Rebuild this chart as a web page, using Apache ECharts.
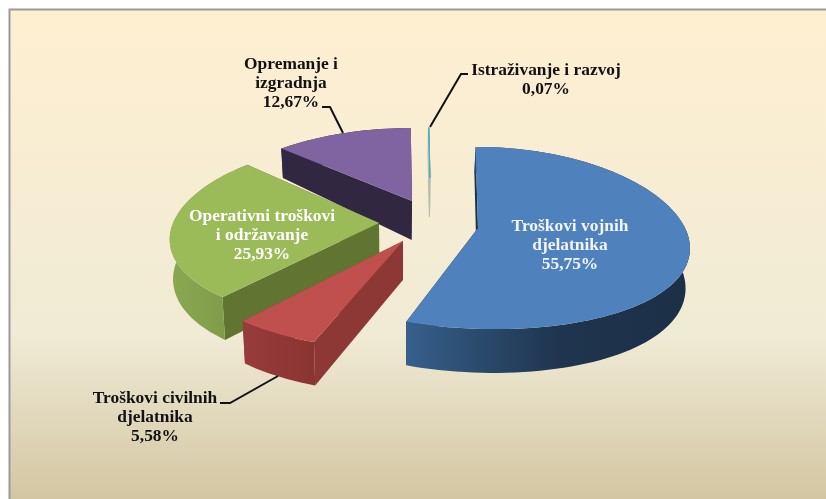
<!DOCTYPE html>
<html>
<head>
<meta charset="utf-8">
<style>html,body{margin:0;padding:0;background:#fff}#main{width:826px;height:499px}</style>
<script src="https://cdn.jsdelivr.net/npm/echarts@6/dist/echarts.min.js"></script>
</head>
<body>
<div id="main"></div>
<script>
// data
var categories = ['Troškovi vojnih\ndjelatnika', 'Troškovi civilnih\ndjelatnika', 'Operativni troškovi\ni održavanje', 'Opremanje i\nizgradnja', 'Istraživanje i razvoj'];
var values = [55.75, 5.58, 25.93, 12.67, 0.07];
var percentLabels = ['55,75%', '5,58%', '25,93%', '12,67%', '0,07%'];

// exploded slice layout: apex on screen, slice scale
var apexX = [478, 403, 379, 412, 430];
var apexY = [228, 241, 223, 201, 178];
var scaleX = [1, 1.04, 0.995, 0.98, 0.62];
var scaleY = [1, 1.077, 1, 0.9, 0.62];
var topColors = ['#4f81bd', '#c0504d', '#9bbb59', '#8064a2', '#4bacc6'];
var cutColors = ['#1d3149', '#8e3836', '#617532', '#322741', '#b4bcae'];
var wallColors = [
    [[0, '#37608c'], [0.3, '#294767'], [0.55, '#1f344e'], [1, '#1c2f47']],
    [[0, '#973c3a'], [1, '#8a3432']],
    [[0, '#8aa852'], [1, '#7b9746']],
    [[0, '#322741'], [1, '#322741']],
    [[0, '#b4bcae'], [1, '#b4bcae']]
];
// label anchor and leader lines
var labelX = [570, 155, 262, 291, 546];
var labelY = [246, 418, 236, 84, 80];
var labelColors = ['#f2f5fa', '#111', '#fff', '#111', '#111'];
var leaders = [null, [[220, 403], [230, 403], [278, 376]], null, [[322, 107], [330, 107], [343, 133]], [[468, 74], [461, 74], [430, 127]]];

var radiusX = 207, radiusY = 90, perspX = 0.17, perspY = 0.11, viewX = 395, depth = 39;

// projects an angle on the slice rim (frac 0 = apex, 1 = rim)
function project(i, deg, frac, lower) {
    var a = deg * Math.PI / 180;
    var u = Math.sin(a) * frac, v = -Math.cos(a) * frac;
    var sx = 1 / (1 - perspX * v), sy = 1 / (1 - perspY * v);
    var x = apexX[i] + scaleX[i] * radiusX * u * sx + (apexX[i] - viewX) * (sx - 1) * (0.6 + 0.4 * v);
    var y = apexY[i] + scaleY[i] * radiusY * v * sy;
    if (lower) {
        x = viewX + (x - viewX) * 0.985;
        y = y + depth * (v > 0 ? sy : Math.pow(sy, 3.8));
    }
    return [x, y];
}

function arcPoints(i, a0, a1, lower) {
    var pts = [], n = Math.max(2, Math.ceil((a1 - a0) / 2));
    for (var k = 0; k <= n; k++) {
        pts.push(project(i, a0 + (a1 - a0) * k / n, 1, lower));
    }
    return pts;
}

function cutFace(i, deg) {
    return {
        type: 'polygon',
        shape: { points: [project(i, deg, 1, false), project(i, deg, 0, false), project(i, deg, 0, true), project(i, deg, 1, true)] },
        style: { fill: cutColors[i], stroke: cutColors[i], lineWidth: i === 4 ? 1 : 0 }
    };
}

var total = values.reduce(function (a, b) { return a + b; }, 0);

function renderSlice(params) {
    var i = drawOrder[params.dataIndex];
    var before = 0;
    for (var j = 0; j < i; j++) before += values[j];
    var a0 = before / total * 360;
    var a1 = a0 + values[i] / total * 360;
    var top = arcPoints(i, a0, a1, false);
    var bottom = arcPoints(i, a0, a1, true).reverse();
    var apex = project(i, a0, 0, false);
    return {
        type: 'group',
        children: [
            cutFace(i, a0),
            cutFace(i, a1),
            {
                type: 'polygon',
                shape: { points: top.concat(bottom) },
                style: { fill: new echarts.graphic.LinearGradient(0, 0, 1, 0, wallColors[i].map(function (c) { return { offset: c[0], color: c[1] }; })) }
            },
            {
                type: 'polygon',
                shape: { points: [apex].concat(top) },
                style: { fill: topColors[i], stroke: topColors[i], lineWidth: i === 4 ? 1 : 0 }
            }
        ]
    };
}

function renderLabel(params) {
    var i = params.dataIndex;
    var children = [];
    if (leaders[i]) {
        children.push({ type: 'polyline', shape: { points: leaders[i] }, style: { stroke: '#111', lineWidth: 2, fill: null } });
    }
    children.push({
        type: 'text',
        style: {
            x: labelX[i], y: labelY[i], text: categories[i] + '\n' + percentLabels[i],
            align: 'center', verticalAlign: 'middle', lineHeight: 19,
            fontFamily: '"Liberation Serif"', fontWeight: 'bold', fontSize: 17.4, fill: labelColors[i]
        }
    });
    return { type: 'group', children: children };
}

// back slices are painted first
var drawOrder = [4, 3, 2, 1, 0];

var chart = echarts.init(document.getElementById('main'));
chart.setOption({
    animation: false,
    graphic: [{
        type: 'rect', z: -1, silent: true,
        shape: { x: 9.5, y: 9.5, width: 830, height: 500 },
        style: {
            fill: new echarts.graphic.LinearGradient(0, 0, 0, 1, [
                { offset: 0, color: '#ffefd1' }, { offset: 0.65, color: '#f0ebd5' }, { offset: 1, color: '#d1c39f' }
            ]),
            stroke: '#9a9a9a', lineWidth: 2
        }
    }],
    series: [{
        type: 'custom', coordinateSystem: 'none', renderItem: renderSlice,
        data: drawOrder.map(function (i) { return [values[i]]; }), z: 2, silent: true
    }, {
        type: 'custom', coordinateSystem: 'none', renderItem: renderLabel,
        data: values.map(function (v) { return [v]; }), z: 3, silent: true
    }]
});
</script>
</body>
</html>
